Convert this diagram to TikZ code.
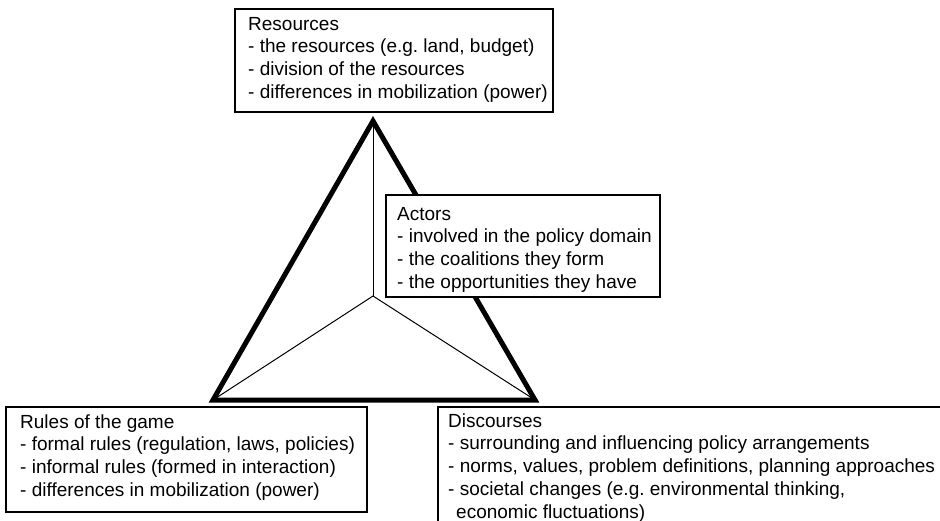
\documentclass[tikz,border=0pt]{standalone}
\usepackage{fontspec}
\setmainfont{Liberation Sans}
\frenchspacing
% fixed height of the first text line, so baselines sit where wanted
\newcommand{\topline}{\rule{0pt}{15pt}}
\begin{document}
\begin{tikzpicture}[x=1pt,y={(0pt,-1pt)},
  infobox/.style={draw=black, line width=1.3pt, fill=white, rectangle},
  infotext/.style={anchor=north west, align=left, inner sep=0pt,
    font=\fontsize{19}{22.7}\selectfont},
  spoke/.style={line width=1pt},
  frame/.style={line width=5pt, line join=miter}]
\useasboundingbox (0,0) rectangle (940,521);
\fill[white] (0,0) rectangle (940,521);

% triangle corners and centre
\coordinate (top) at (373,121);
\coordinate (left) at (213,400);
\coordinate (right) at (535,400);
\coordinate (mid) at (373,296);

\draw[spoke] (mid) -- (top);
\draw[spoke] (mid) -- (left);
\draw[spoke] (mid) -- (right);
\draw[frame] (top) -- (left) -- (right) -- cycle;

% Resources
\draw[infobox] (235,9) rectangle (553,112);
\node[infotext] (res) at (248,15)
  {\topline Resources\\- the resources (e.g. land, budget)\\- division of the resources\\- differences in mobilization (power)};

% Actors
\draw[infobox] (386,195) rectangle (660,297);
\node[infotext] (act) at (397,205)
  {\topline Actors\\- involved in the policy domain\\- the coalitions they form\\- the opportunities they have};

% Rules of the game
\draw[infobox] (6,407) rectangle (367,512);
\node[infotext] (rules) at (20,413)
  {\topline Rules of the game\\- formal rules (regulation, laws, policies)\\- informal rules (formed in interaction)\\- differences in mobilization (power)};

% Discourses
\draw[infobox] (438,407) rectangle (960,540);
\node[infotext] (disc) at (448,412)
  {\topline Discourses\\- surrounding and influencing policy arrangements\\- norms, values, problem definitions, planning approaches\\- societal changes (e.g. environmental thinking,\\\hspace*{8pt}economic fluctuations)};
\end{tikzpicture}
\end{document}
